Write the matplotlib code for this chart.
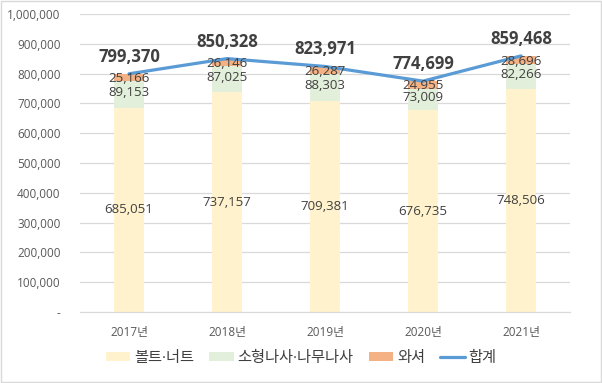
import matplotlib.pyplot as plt
from matplotlib.patches import Rectangle
from matplotlib.ticker import FuncFormatter

plt.rcParams['font.family'] = ['Open Sans', 'Noto Sans CJK KR', 'DejaVu Sans']

years = ['2017년', '2018년', '2019년', '2020년', '2021년']
bolt_nut = [685051, 737157, 709381, 676735, 748506]
small_screw = [89153, 87025, 88303, 73009, 82266]
washer = [25166, 26146, 26287, 24955, 28696]
total = [799370, 850328, 823971, 774699, 859468]

fig = plt.figure(figsize=(6.02, 3.83), dpi=100)
ax = fig.add_axes([80 / 602, (383 - 312) / 383, 490 / 602, 298 / 383])
fig.patches.append(Rectangle((0.001, 0.002), 0.997, 0.995, transform=fig.transFigure,
                             fill=False, edgecolor='#d9d9d9', linewidth=1))

x = list(range(len(years)))
w = 0.31
c_bolt, c_small, c_wash, c_tot = '#fff2cc', '#e2efda', '#f4b183', '#5b9bd5'
b2 = [a + b for a, b in zip(bolt_nut, small_screw)]

ax.bar(x, bolt_nut, w, color=c_bolt, label='볼트·너트', zorder=2)
ax.bar(x, small_screw, w, bottom=bolt_nut, color=c_small, label='소형나사·나무나사', zorder=2)
ax.bar(x, washer, w, bottom=b2, color=c_wash, label='와셔', zorder=2)
ax.plot(x, total, color=c_tot, linewidth=2.3, label='합계', zorder=3, solid_capstyle='round')

txt = '#404040'
for i in x:
    ax.text(i, bolt_nut[i] / 2, f'{bolt_nut[i]:,}', ha='center', va='center', fontsize=9.5, color=txt, zorder=4)
    ax.text(i, bolt_nut[i] + small_screw[i] / 2 + 7000, f'{small_screw[i]:,}', ha='center', va='center',
            fontsize=9.5, color=txt, zorder=4)
    ax.text(i, b2[i] + washer[i] / 2 - 3000, f'{washer[i]:,}', ha='center', va='center', fontsize=9.5,
            color=txt, zorder=4)
    ax.text(i, total[i] + 57000, f'{total[i]:,}', ha='center', va='center', fontsize=12,
            fontweight='bold', color=txt, zorder=4)

ax.set_xlim(-0.5, 4.5)
ax.set_ylim(0, 1000000)
ax.set_yticks(range(0, 1000001, 100000))
ax.yaxis.set_major_formatter(FuncFormatter(lambda v, p: '-' if v == 0 else f'{int(v):,}'))
ax.set_xticks(x)
ax.set_xticklabels(years)
ax.tick_params(axis='both', length=0, labelsize=8.5, colors='#595959')
ax.tick_params(axis='x', pad=10)
ax.tick_params(axis='y', pad=14)
ax.grid(axis='y', color='#d9d9d9', linewidth=0.9, zorder=0)
for s in ['top', 'right', 'left']:
    ax.spines[s].set_visible(False)
ax.spines['bottom'].set_color('#d9d9d9')

handles, labels = ax.get_legend_handles_labels()
order = [1, 2, 3, 0]
ax.legend([handles[k] for k in order], [labels[k] for k in order],
          loc='center', bbox_to_anchor=(221 / 490, -0.155), ncol=4, frameon=False, fontsize=11,
          handlelength=1.6, handleheight=0.5, columnspacing=1.0, handletextpad=0.25,
          labelcolor='#404040')

fig.savefig('out.png', dpi=100)
